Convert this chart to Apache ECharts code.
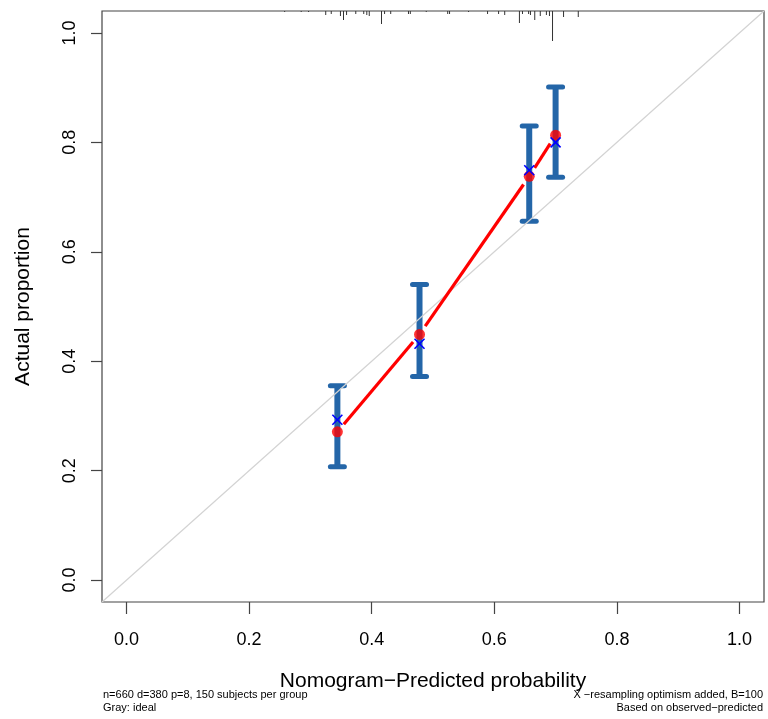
<!DOCTYPE html>
<html>
<head>
<meta charset="utf-8">
<script src="https://cdn.jsdelivr.net/npm/echarts@6/dist/echarts.min.js"></script>
<style>
html,body{margin:0;padding:0;background:#fff;}
#chart{width:768px;height:719px;}
</style>
</head>
<body>
<div id="chart"></div>
<script>
// ---- data ----
const groupPred = [0.344, 0.478, 0.657, 0.700];      // mean predicted probability per group
const groupObs = [0.271, 0.449, 0.738, 0.813];       // observed (apparent) proportion
const groupCorrected = [0.293, 0.432, 0.749, 0.800]; // bias-corrected (X)
const groupLower = [0.207, 0.372, 0.656, 0.736];
const groupUpper = [0.355, 0.540, 0.830, 0.901];
const tickValues = [0, 0.2, 0.4, 0.6, 0.8, 1.0];
const rugX = [0.258,0.285,0.297,0.325,0.334,0.349,0.354,0.359,0.374,0.387,0.392,0.396,0.416,0.421,0.431,0.460,0.463,0.489,0.524,0.527,0.558,0.589,0.607,0.617,0.641,0.646,0.656,0.659,0.666,0.675,0.685,0.690,0.695,0.713,0.737];
const rugFreq = [1,1,1,4,3,5,9,4,3,3,4,5,13,3,3,3,3,1,3,3,1,3,3,4,12,3,3,4,9,5,4,5,30,6,6];
const idealLine = [[-0.04,-0.04],[1.04,1.04]];

const chart = echarts.init(document.getElementById('chart'), null, {renderer:'canvas'});
const FONT = 'Liberation Sans, Arial, sans-serif';
const axisMin = -0.04, axisMax = 1.04;

const errData = groupPred.map((x,i)=>[x, groupLower[i], groupUpper[i]]);
const segData = [];
for (let i=0;i<groupPred.length-1;i++) segData.push([groupPred[i],groupObs[i],groupPred[i+1],groupObs[i+1]]);

const option = {
  animation:false,
  backgroundColor:'#fff',
  grid:{left:102, top:11, right:4, bottom:117, show:true, borderColor:'#444', borderWidth:1.2, backgroundColor:'transparent'},
  xAxis:{
    type:'value', min:axisMin, max:axisMax,
    name:'Nomogram\u2212Predicted probability', nameLocation:'middle', nameGap:69,
    nameTextStyle:{fontFamily:FONT, fontSize:21, color:'#000'},
    axisLine:{show:false, onZero:false},
    axisTick:{show:true, inside:false, customValues:tickValues, length:12, lineStyle:{color:'#444', width:1.2}},
    axisLabel:{customValues:tickValues, formatter:v=>v.toFixed(1), fontFamily:FONT, fontSize:18, color:'#000', margin:29},
    splitLine:{show:false}
  },
  yAxis:{
    type:'value', min:axisMin, max:axisMax,
    name:'Actual proportion', nameLocation:'middle', nameGap:68,
    nameTextStyle:{fontFamily:FONT, fontSize:21, color:'#000'},
    axisLine:{show:false, onZero:false},
    axisTick:{show:true, inside:false, customValues:tickValues, length:11, lineStyle:{color:'#444', width:1.2}},
    axisLabel:{customValues:tickValues, formatter:v=>v.toFixed(1), fontFamily:FONT, fontSize:18, color:'#000', rotate:90, margin:23},
    splitLine:{show:false}
  },
  series:[
    { // rug of predicted probabilities at top
      type:'custom', data:rugX.map((x,i)=>[x,rugFreq[i]]), z:2, silent:true,
      renderItem:(params, api)=>{
        const p = api.coord([api.value(0), axisMax]);
        const len = api.value(1);
        return {type:'line', shape:{x1:p[0],y1:p[1],x2:p[0],y2:p[1]+len}, style:{stroke:'#333', lineWidth:1}};
      }
    },
    { // error bars
      type:'custom', data:errData, z:3, silent:true,
      renderItem:(params, api)=>{
        const lo = api.coord([api.value(0), api.value(1)]);
        const hi = api.coord([api.value(0), api.value(2)]);
        const c = '#2466A8';
        const cap = 7;
        return {type:'group', children:[
          {type:'line', shape:{x1:lo[0],y1:lo[1],x2:hi[0],y2:hi[1]}, style:{stroke:c, lineWidth:6}},
          {type:'line', shape:{x1:lo[0]-cap,y1:lo[1],x2:lo[0]+cap,y2:lo[1]}, style:{stroke:c, lineWidth:5, lineCap:'round'}},
          {type:'line', shape:{x1:hi[0]-cap,y1:hi[1],x2:hi[0]+cap,y2:hi[1]}, style:{stroke:c, lineWidth:5, lineCap:'round'}}
        ]};
      }
    },
    { // ideal line
      type:'line', data:idealLine, symbol:'none', z:4, silent:true,
      lineStyle:{color:'#d3d3d3', width:1.2}
    },
    { // apparent line with gaps (type="b")
      type:'custom', data:segData, z:5, silent:true,
      renderItem:(params, api)=>{
        const a = api.coord([api.value(0), api.value(1)]);
        const b = api.coord([api.value(2), api.value(3)]);
        const dx = b[0]-a[0], dy = b[1]-a[1];
        const L = Math.sqrt(dx*dx+dy*dy);
        const g = 10;
        if (L <= 2*g) return null;
        const ux = dx/L, uy = dy/L;
        return {type:'line', shape:{x1:a[0]+ux*g, y1:a[1]+uy*g, x2:b[0]-ux*g, y2:b[1]-uy*g}, style:{stroke:'#ff0000', lineWidth:3.2}};
      }
    },
    { // observed points
      type:'scatter', data:groupPred.map((x,i)=>[x,groupObs[i]]), z:6, silent:true,
      symbol:'circle', symbolSize:11, itemStyle:{color:'#ff0000'}
    },
    { // bias-corrected X
      type:'custom', data:groupPred.map((x,i)=>[x,groupCorrected[i]]), z:7, silent:true,
      renderItem:(params, api)=>{
        const p = api.coord([api.value(0), api.value(1)]);
        const s = 5;
        return {type:'group', children:[
          {type:'line', shape:{x1:p[0]-s,y1:p[1]-s,x2:p[0]+s,y2:p[1]+s}, style:{stroke:'#0000ff', lineWidth:1.6}},
          {type:'line', shape:{x1:p[0]-s,y1:p[1]+s,x2:p[0]+s,y2:p[1]-s}, style:{stroke:'#0000ff', lineWidth:1.6}}
        ]};
      }
    }
  ],
  graphic:[
    {type:'text', left:103, top:689, style:{text:'n=660 d=380 p=8, 150 subjects per group', font:'11px '+FONT, fill:'#000'}},
    {type:'text', left:103, top:702, style:{text:'Gray: ideal', font:'11px '+FONT, fill:'#000'}},
    {type:'text', right:5, top:689, style:{text:'X \u2212resampling optimism added, B=100', font:'11px '+FONT, fill:'#000', align:'right'}},
    {type:'text', right:5, top:702, style:{text:'Based on observed\u2212predicted', font:'11px '+FONT, fill:'#000', align:'right'}}
  ]
};
chart.setOption(option);
</script>
</body>
</html>
